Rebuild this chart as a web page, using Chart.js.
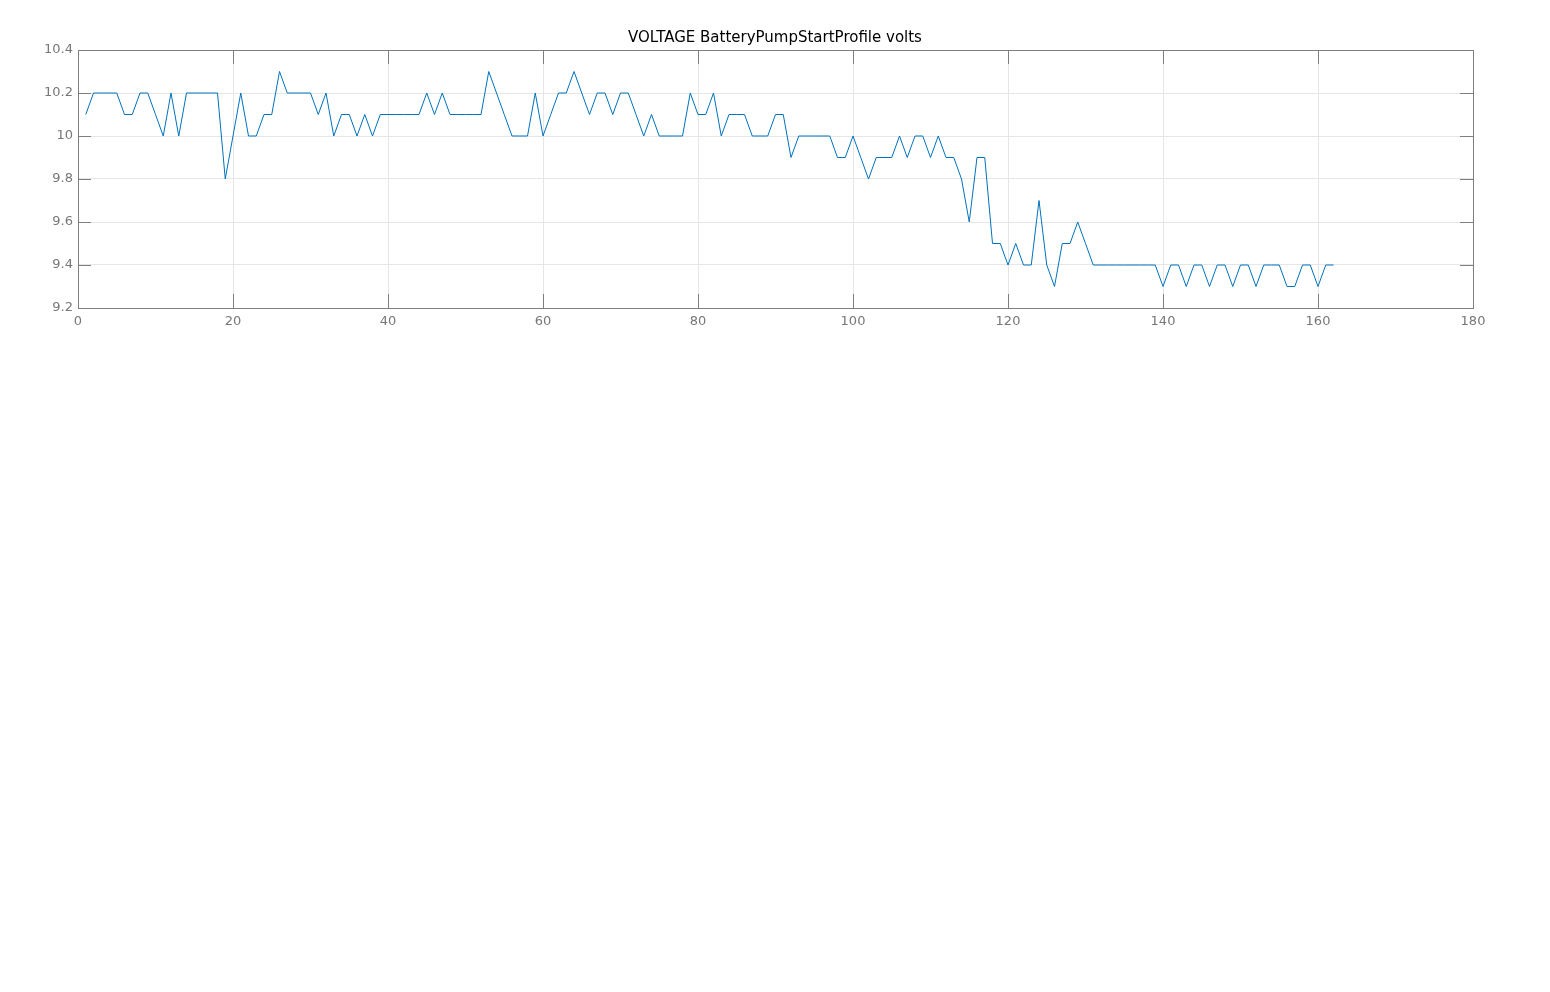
<!DOCTYPE html>
<html>
<head>
<meta charset="utf-8">
<script src="https://cdn.jsdelivr.net/npm/chart.js@4/dist/chart.umd.min.js"></script>
<style>
  body { margin: 0; background: #fff; }
  #wrap { position: absolute; left: 0; top: 0; width: 1550px; height: 340px; }
</style>
</head>
<body>
<div id="wrap"><canvas id="volt_chart" width="1550" height="340"></canvas></div>
<script>
// battery voltage, one reading per sample
var voltage = [
  10.1, 10.2, 10.2, 10.2, 10.2, 10.1, 10.1, 10.2, 10.2, 10.1,
  10.0, 10.2, 10.0, 10.2, 10.2, 10.2, 10.2, 10.2, 9.8, 10.0,
  10.2, 10.0, 10.0, 10.1, 10.1, 10.3, 10.2, 10.2, 10.2, 10.2,
  10.1, 10.2, 10.0, 10.1, 10.1, 10.0, 10.1, 10.0, 10.1, 10.1,
  10.1, 10.1, 10.1, 10.1, 10.2, 10.1, 10.2, 10.1, 10.1, 10.1,
  10.1, 10.1, 10.3, 10.2, 10.1, 10.0, 10.0, 10.0, 10.2, 10.0,
  10.1, 10.2, 10.2, 10.3, 10.2, 10.1, 10.2, 10.2, 10.1, 10.2,
  10.2, 10.1, 10.0, 10.1, 10.0, 10.0, 10.0, 10.0, 10.2, 10.1,
  10.1, 10.2, 10.0, 10.1, 10.1, 10.1, 10.0, 10.0, 10.0, 10.1,
  10.1, 9.9, 10.0, 10.0, 10.0, 10.0, 10.0, 9.9, 9.9, 10.0,
  9.9, 9.8, 9.9, 9.9, 9.9, 10.0, 9.9, 10.0, 10.0, 9.9,
  10.0, 9.9, 9.9, 9.8, 9.6, 9.9, 9.9, 9.5, 9.5, 9.4,
  9.5, 9.4, 9.4, 9.7, 9.4, 9.3, 9.5, 9.5, 9.6, 9.5,
  9.4, 9.4, 9.4, 9.4, 9.4, 9.4, 9.4, 9.4, 9.4, 9.3,
  9.4, 9.4, 9.3, 9.4, 9.4, 9.3, 9.4, 9.4, 9.3, 9.4,
  9.4, 9.3, 9.4, 9.4, 9.4, 9.3, 9.3, 9.4, 9.4, 9.3,
  9.4, 9.4
];
var xTicks = [0, 20, 40, 60, 80, 100, 120, 140, 160, 180];
var yTicks = [9.2, 9.4, 9.6, 9.8, 10, 10.2, 10.4];
var chartTitle = "VOLTAGE BatteryPumpStartProfile volts";

var points = voltage.map(function (v, i) {
  return { x: i + 1, y: v };
});

// matlab style box with inward tick marks
var boxPlugin = {
  id: "box",
  afterDraw: function (chart) {
    var c = chart.ctx, a = chart.chartArea;
    var xs = chart.scales.x, ys = chart.scales.y;
    c.save();
    c.strokeStyle = "#7f7f7f";
    c.lineWidth = 1;
    c.beginPath();
    xTicks.forEach(function (t) {
      var px = Math.round(xs.getPixelForValue(t)) + 0.5;
      c.moveTo(px, a.bottom); c.lineTo(px, a.bottom - 14);
      c.moveTo(px, a.top); c.lineTo(px, a.top + 14);
    });
    yTicks.forEach(function (t) {
      var py = Math.round(ys.getPixelForValue(t)) + 0.5;
      c.moveTo(a.left, py); c.lineTo(a.left + 13, py);
      c.moveTo(a.right, py); c.lineTo(a.right - 13, py);
    });
    c.stroke();
    c.strokeRect(Math.round(a.left) + 0.5, Math.round(a.top) + 0.5,
      Math.round(a.right - a.left), Math.round(a.bottom - a.top));
    c.restore();
  },
};

var ctx = document.getElementById("volt_chart").getContext("2d");
var volt_chart = new Chart(ctx, {
  type: "line",
  data: {
    datasets: [
      {
        label: "voltage",
        data: points,
        borderColor: "#0072BD",
        borderWidth: 1,
        pointRadius: 0,
        tension: 0,
        fill: false,
      },
    ],
  },
  options: {
    responsive: false,
    animation: false,
    layout: { padding: 0 },
    scales: {
      x: {
        type: "linear",
        min: 0,
        max: 180,
        afterBuildTicks: function (s) {
          s.ticks = xTicks.map(function (v) { return { value: v }; });
        },
        afterFit: function (s) { s.height = 32; },
        grid: { color: "#e6e6e6", drawTicks: false },
        border: { display: false },
        ticks: {
          padding: 6,
          maxRotation: 0,
          color: "#777",
          font: { family: "DejaVu Sans", size: 13 },
        },
      },
      y: {
        min: 9.2,
        max: 10.4,
        afterBuildTicks: function (s) {
          s.ticks = yTicks.map(function (v) { return { value: v }; });
        },
        afterFit: function (s) { s.width = 78; },
        grid: { color: "#e6e6e6", drawTicks: false },
        border: { display: false },
        ticks: {
          padding: 5,
          color: "#777",
          font: { family: "DejaVu Sans", size: 13 },
          callback: function (v) { return String(Math.round(v * 10) / 10); },
        },
      },
      // empty right margin so the title stays centred on the page
      yr: {
        position: "right",
        display: true,
        afterFit: function (s) { s.width = 77; },
        grid: { display: false },
        border: { display: false },
        ticks: { display: false },
      },
    },
    plugins: {
      legend: { display: false },
      tooltip: { enabled: false },
      title: {
        display: true,
        text: chartTitle,
        color: "#000",
        font: { family: "DejaVu Sans", size: 15, weight: "normal" },
        padding: { top: 29, bottom: 3 },
      },
    },
  },
  plugins: [boxPlugin],
});
</script>
</body>
</html>
